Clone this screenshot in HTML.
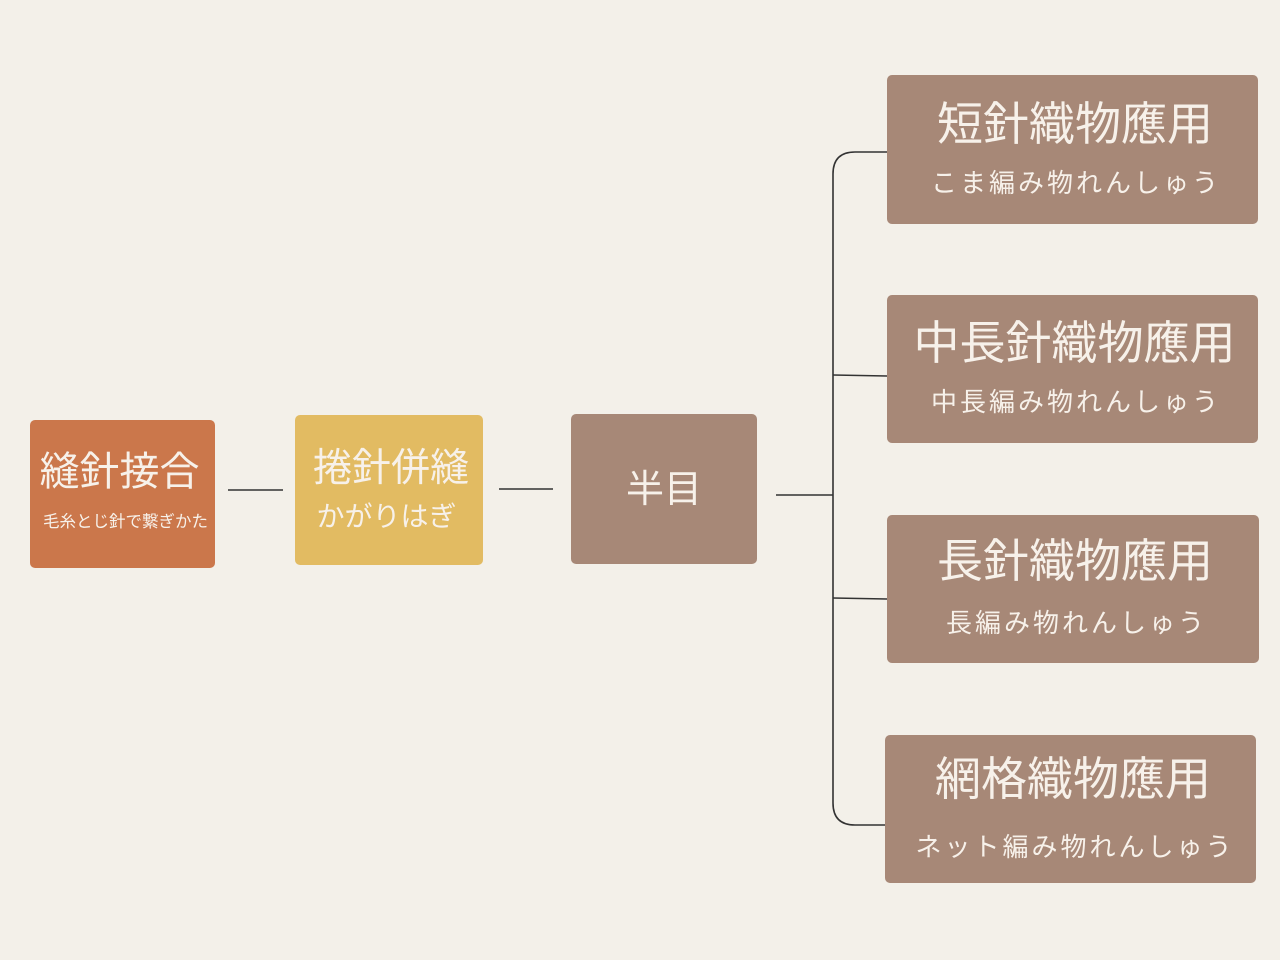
<!DOCTYPE html>
<html><head><meta charset="utf-8"><style>
html,body{margin:0;padding:0}
body{width:1280px;height:960px;background:#F3F0E9;position:relative;overflow:hidden;font-family:"Liberation Sans","Noto Sans CJK JP",sans-serif;color:#F7F1EA}
.b{position:absolute;border-radius:5px}
.t{position:absolute;left:0;right:0;text-align:center;white-space:nowrap;line-height:1}
.s{font-size:26px;letter-spacing:3px;padding-left:3px}
</style></head><body>
<svg width="1280" height="960" style="position:absolute;left:0;top:0">
<g stroke="#333" stroke-width="1.6" fill="none">
<line x1="228" y1="490" x2="283" y2="490"/>
<line x1="499" y1="489" x2="553" y2="489"/>
<line x1="776" y1="495" x2="833" y2="495"/>
<path d="M887 152 H855 Q833 152 833 174 V803 Q833 825 855 825 H887"/>
<line x1="833" y1="375" x2="887" y2="376"/>
<line x1="833" y1="598" x2="887" y2="599"/>
</g></svg>

<div class="b" style="left:30px;top:420px;width:185px;height:148px;background:#CB774B">
<div class="t" style="top:32px;font-size:40px;left:-6px">縫針接合</div>
<div class="t" style="top:94px;font-size:16.5px;left:6px">毛糸とじ針で繋ぎかた</div>
</div>
<div class="b" style="left:295px;top:415px;width:188px;height:150px;background:#E2BB62">
<div class="t" style="top:34px;font-size:39px;left:4px">捲針併縫</div>
<div class="t" style="top:88px;font-size:28px;left:-5px">かがりはぎ</div>
</div>
<div class="b" style="left:571px;top:414px;width:186px;height:150px;background:#A78877">
<div class="t" style="top:57px;font-size:38px">半目</div>
</div>

<div class="b" style="left:887px;top:75px;width:371px;height:149px;background:#A78877">
<div class="t" style="top:26px;font-size:46px;left:5px">短針織物應用</div>
<div class="t s" style="top:95px;left:4px">こま編み物れんしゅう</div>
</div>
<div class="b" style="left:887px;top:295px;width:371px;height:148px;background:#A78877">
<div class="t" style="top:25px;font-size:46px;left:4px">中長針織物應用</div>
<div class="t s" style="top:94px;left:4px">中長編み物れんしゅう</div>
</div>
<div class="b" style="left:887px;top:515px;width:372px;height:148px;background:#A78877">
<div class="t" style="top:23px;font-size:46px;left:4px">長針織物應用</div>
<div class="t s" style="top:95px;left:4px">長編み物れんしゅう</div>
</div>
<div class="b" style="left:885px;top:735px;width:371px;height:148px;background:#A78877">
<div class="t" style="top:21px;font-size:46px;left:5px">網格織物應用</div>
<div class="t s" style="top:99px;left:6px">ネット編み物れんしゅう</div>
</div>
</body></html>
